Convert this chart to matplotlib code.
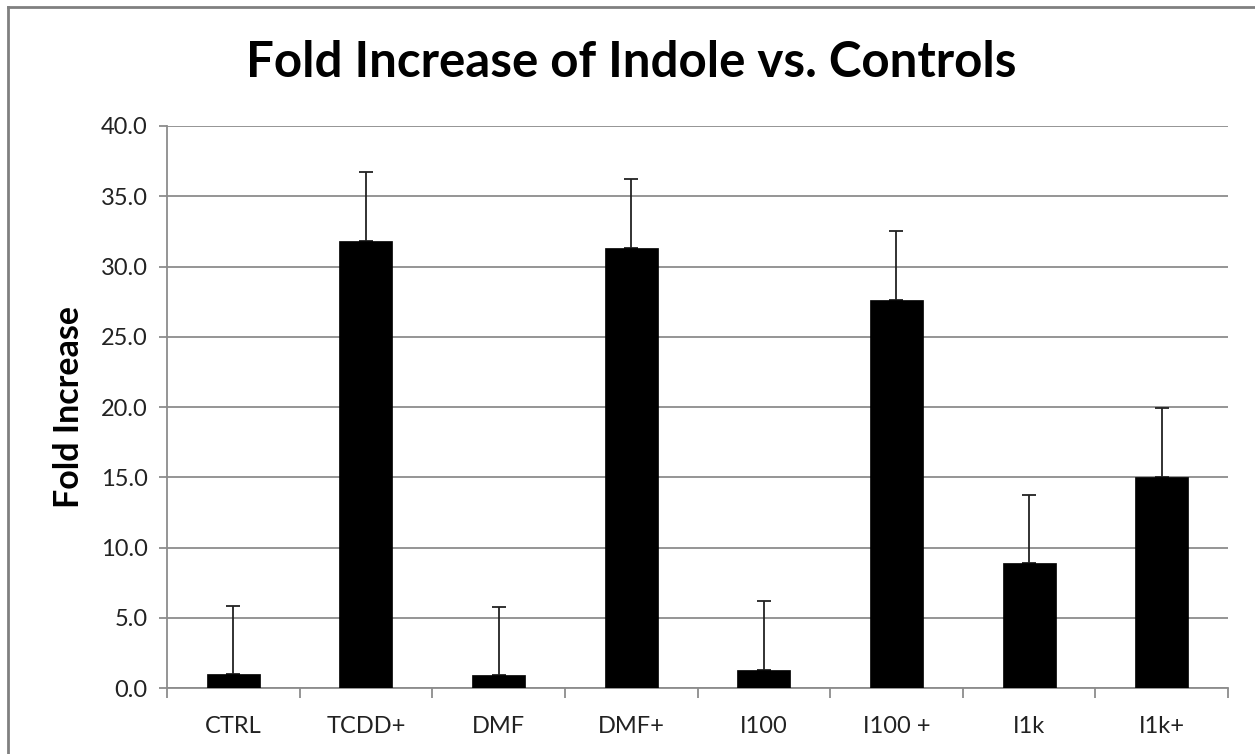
import matplotlib.pyplot as plt
from matplotlib.lines import Line2D
import numpy as np

plt.rcParams['font.family'] = ['Lato', 'DejaVu Sans']

groups = ['CTRL', 'TCDD+', 'DMF', 'DMF+', 'I100', 'I100 +', 'I1k', 'I1k+']
fold = [1.0, 31.8, 0.9, 31.3, 1.3, 27.6, 8.9, 15.0]
err_up = [4.85, 4.9, 4.9, 4.9, 4.9, 4.9, 4.85, 4.9]
yticks = [0, 5, 10, 15, 20, 25, 30, 35, 40]

fig = plt.figure(figsize=(12.55, 7.54), dpi=100)
ax = fig.add_axes([0.1331, 0.0875, 0.8454, 0.7454])

x = np.arange(len(groups))
ax.bar(x, fold, width=0.4, color='black', edgecolor='black', linewidth=0.5, zorder=3)
ax.errorbar(x, fold, yerr=[[0] * len(fold), err_up], fmt='none',
            ecolor='#222222', elinewidth=1.3, capsize=5, capthick=1.3, zorder=2.5)

ax.set_xlim(-0.5, len(groups) - 0.5)
ax.set_ylim(0, 40)
ax.set_yticks(yticks)
ax.set_yticklabels([f'{v:.1f}' for v in yticks])
ax.yaxis.grid(True, color='#8c8c8c', linewidth=1.3, zorder=0)
ax.set_axisbelow(True)

# Excel style: ticks between categories, labels centred
ax.set_xticks(np.arange(-0.5, len(groups), 1.0))
ax.set_xticklabels([])
ax.set_xticks(x, minor=True)
ax.set_xticklabels(groups, minor=True)
ax.tick_params(axis='x', which='major', length=7, width=1.3, color='#8c8c8c', direction='out')
ax.tick_params(axis='x', which='minor', length=0, pad=20, labelsize=17, labelcolor='#222222')
ax.tick_params(axis='y', length=6, width=1.3, color='#8c8c8c', pad=8, labelsize=17, labelcolor='#222222')

for s in ['top', 'right']:
    ax.spines[s].set_visible(False)
for s in ['left', 'bottom']:
    ax.spines[s].set_color('#8c8c8c')
    ax.spines[s].set_linewidth(1.3)

ax.set_ylabel('Fold Increase', fontsize=24.5, fontweight='bold', labelpad=11)
fig.text(0.503, 0.917, 'Fold Increase of Indole vs. Controls', ha='center', va='center',
         fontsize=35.5, fontweight='bold')

# chart border (left and top edges visible)
fig.add_artist(Line2D([8 / 1255, 8 / 1255], [0, 1 - 7 / 754], transform=fig.transFigure,
                      color='#808080', linewidth=2))
fig.add_artist(Line2D([8 / 1255, 1], [1 - 7 / 754, 1 - 7 / 754], transform=fig.transFigure,
                      color='#808080', linewidth=2))

fig.savefig('out.png', dpi=100)
